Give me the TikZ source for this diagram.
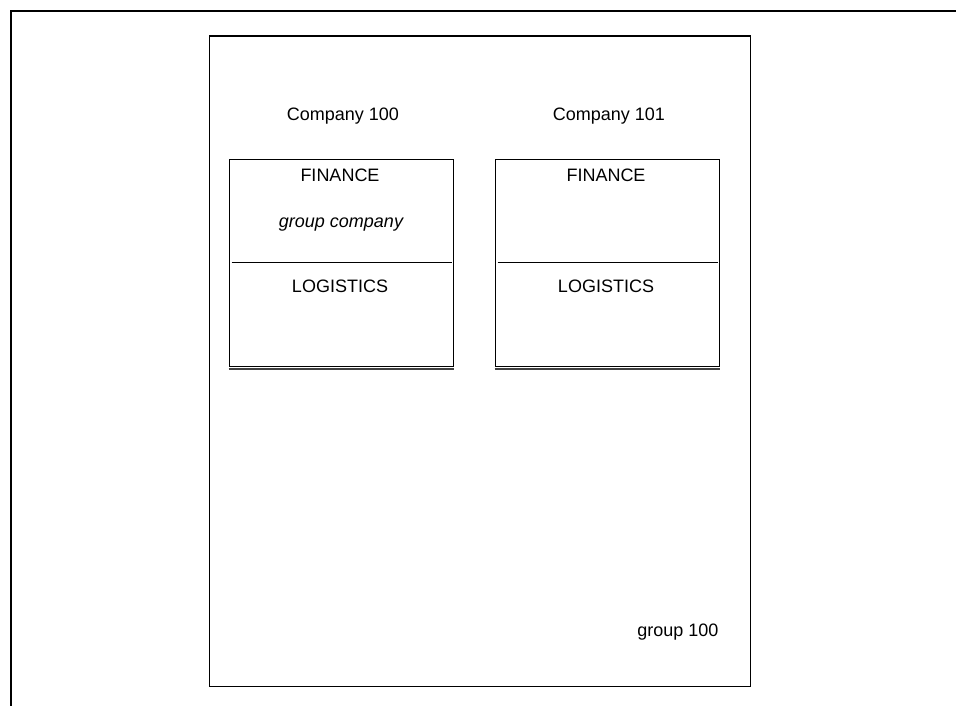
\documentclass[tikz,border=0pt]{standalone}
\usepackage{fontspec}
\setmainfont{Liberation Sans}
\begin{document}
\begin{tikzpicture}[x=1pt,y=-1pt,
  label/.style={inner sep=0pt,anchor=base,font=\fontsize{18}{21}\selectfont},
  unitbox/.style={draw,line width=1.3pt,minimum width=224pt,minimum height=207pt,inner sep=0pt,anchor=north west},
  divider/.style={line width=1.1pt},
  frameline/.style={line width=1.5pt}]
\useasboundingbox (0,0) rectangle (956,706);
% page frame: top and left edges only
\coordinate (fl) at (11,706);
\coordinate (ft) at (11,11);
\coordinate (fr) at (956,11);
\draw[frameline] (fl) -- (ft) -- (fr);
% group area
\node[draw,line width=1.6pt,minimum width=541pt,minimum height=650pt,inner sep=0pt,anchor=north west] (grp) at (208.5,35.5) {};
% company boxes
\node[unitbox] (c100) at (228.5,159) {};
\node[unitbox] (c101) at (494.5,159) {};
% dividers between FINANCE and LOGISTICS
\draw[divider] ([xshift=3pt,yshift=-103.5pt]c100.north west) -- ([xshift=-2pt,yshift=-103.5pt]c100.north east);
\draw[divider] ([xshift=3pt,yshift=-103.5pt]c101.north west) -- ([xshift=-2pt,yshift=-103.5pt]c101.north east);
% doubled bottom edges
\draw[line width=1.4pt,black!75] ([yshift=-1.6pt]c100.south west) -- ([yshift=-1.6pt]c100.south east);
\draw[line width=1.4pt,black!75] ([yshift=-1.6pt]c101.south west) -- ([yshift=-1.6pt]c101.south east);
% texts
\node[label] (t100) at (343,120.5) {Company 100};
\node[label] (t101) at (609,120.5) {Company 101};
\node[label] (f100) at (340,182) {FINANCE};
\node[label] (g100) at (341,227) {\itshape group company};
\node[label] (l100) at (340,292) {LOGISTICS};
\node[label] (f101) at (606,182) {FINANCE};
\node[label] (l101) at (606,292) {LOGISTICS};
\node[label] (glabel) at (678,636) {group 100};
\end{tikzpicture}
\end{document}
